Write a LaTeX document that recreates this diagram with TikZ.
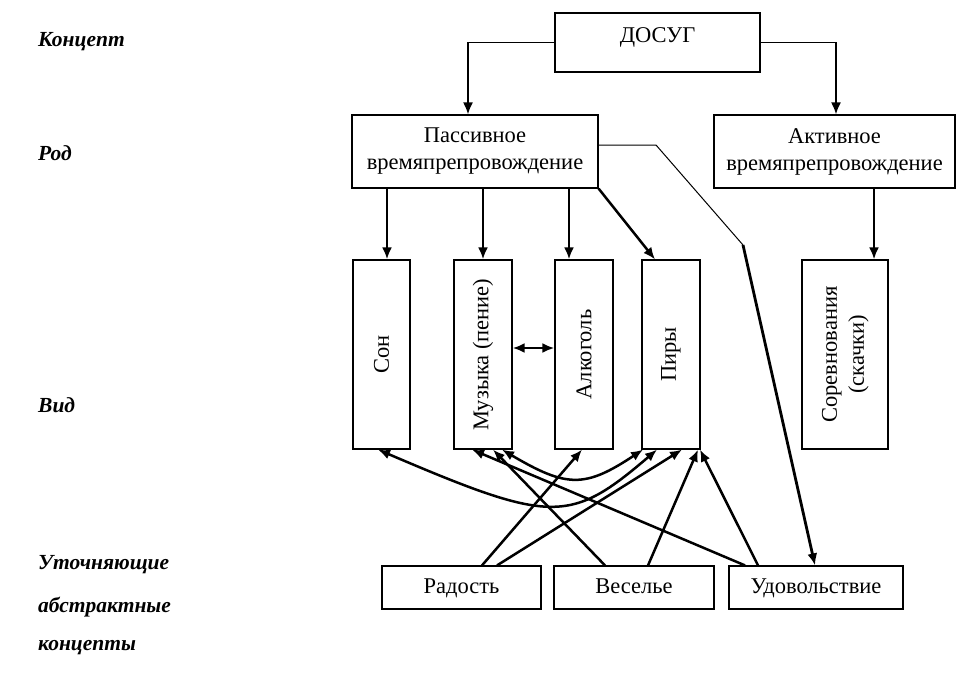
\documentclass[tikz,border=0pt]{standalone}
\usepackage{fontspec}
\setmainfont{Liberation Serif}
\usetikzlibrary{arrows.meta}
\begin{document}
\begin{tikzpicture}[x=1pt,y=-1pt,
  box/.style={draw, line width=1.2pt, inner sep=0pt, font=\fontsize{22.5}{27}\selectfont, align=center},
  arr/.style={line width=2.5pt, -{Latex[length=12pt,width=10pt]}},
  darr/.style={line width=2.5pt, {Latex[length=12pt,width=10pt]}-{Latex[length=12pt,width=10pt]}},
  lvl/.style={font=\fontsize{21.5}{25}\selectfont\bfseries\itshape, anchor=west, inner sep=0pt}]
\useasboundingbox (0,0) rectangle (965,689);
% level labels
\node[lvl] (l1) at (38,42) {Концепт};
\node[lvl] (l2) at (38,153) {Род};
\node[lvl] (l3) at (38,405) {Вид};
\node[lvl] (l4) at (38,565) {Уточняющие};
\node[lvl] (l5) at (38,607) {абстрактные};
\node[lvl] (l6) at (38,648) {концепты};
% boxes
\node[box, minimum width=205, minimum height=59,
  label={[font=\fontsize{22.5}{27}\selectfont, anchor=north, inner sep=0pt, yshift=-15pt]north:ДОСУГ}] (dosug) at (657.5,42.5) {};
\node[box, minimum width=246, minimum height=73] (pass) at (475,151.5) {Пассивное\\времяпрепровождение};
\node[box, minimum width=241, minimum height=73] (act) at (834.5,151.5) {Активное\\времяпрепровождение};
\node[box, minimum width=57, minimum height=189] (son) at (381.5,354.5) {\rotatebox{90}{Сон}};
\node[box, minimum width=58, minimum height=189] (muz) at (483,354.5) {\rotatebox{90}{Музыка (пение)}};
\node[box, minimum width=58, minimum height=189] (alk) at (584,354.5) {\rotatebox{90}{Алкоголь}};
\node[box, minimum width=58, minimum height=189] (pir) at (671,354.5) {\rotatebox{90}{Пиры}};
\node[box, minimum width=86, minimum height=189] (sor) at (845,354.5) {\rotatebox{90}{\begin{tabular}{@{}c@{}}Соревнования\\(скачки)\end{tabular}}};
\tikzset{lowbox/.style={box, minimum height=43, text height=15pt, text depth=4pt}}
\node[lowbox, minimum width=159] (rad) at (461.5,587.5) {Радость};
\node[lowbox, minimum width=160] (ves) at (634,587.5) {Веселье};
\node[lowbox, minimum width=174] (udo) at (816,587.5) {Удовольствие};
% top connectors
\draw[arr, line width=1.8pt] (dosug.west) -| ([xshift=-7pt]pass.north);
\draw[arr, line width=1.8pt] (dosug.east) -| ([xshift=1.5pt]act.north);
% passive to kinds
\draw[arr] ([xshift=5.5pt]son.north |- pass.south) -- ([xshift=5.5pt]son.north);
\draw[arr] (muz.north |- pass.south) -- (muz.north);
\draw[arr] ([xshift=-15pt]alk.north |- pass.south) -- ([xshift=-15pt]alk.north);
\draw[arr] (pass.south east) -- ([xshift=-16pt]pir.north);
\draw[arr] ([xshift=29pt]sor.north |- act.south) -- ([xshift=29pt]sor.north);
\draw[darr] ([yshift=6.5pt]muz.east) -- ([yshift=6.5pt]alk.west);
% passive to pleasure
\coordinate (k1) at (656,145);
\coordinate (k2) at (743,245);
\draw[line width=1pt] ([yshift=6.5pt]pass.east) -- (k1) -- (k2);
\draw[arr, line width=2.8pt] (k2) -- ([xshift=-1pt]udo.north);
% abstract concepts to kinds
\draw[arr] ([xshift=20.5pt]rad.north) -- ([xshift=-2pt]alk.south);
\draw[arr] ([xshift=35.5pt]rad.north) -- ([xshift=11pt]pir.south);
\draw[arr] ([xshift=-29pt]ves.north) -- ([xshift=10pt]muz.south);
\draw[arr] ([xshift=14pt]ves.north) -- ([xshift=27pt]pir.south);
\draw[arr] ([xshift=-71pt]udo.north) -- ([xshift=-11pt]muz.south);
\draw[arr] ([xshift=-58pt]udo.north) -- ([xshift=29pt]pir.south);
% curved double arrows
\draw[darr] ([xshift=19pt]muz.south) .. controls (567,488) and (585,488) .. ([xshift=-28pt]pir.south);
\draw[darr] ([xshift=-3.5pt]son.south) .. controls (552,524) and (570,524) .. ([xshift=-14pt]pir.south);
\end{tikzpicture}
\end{document}
